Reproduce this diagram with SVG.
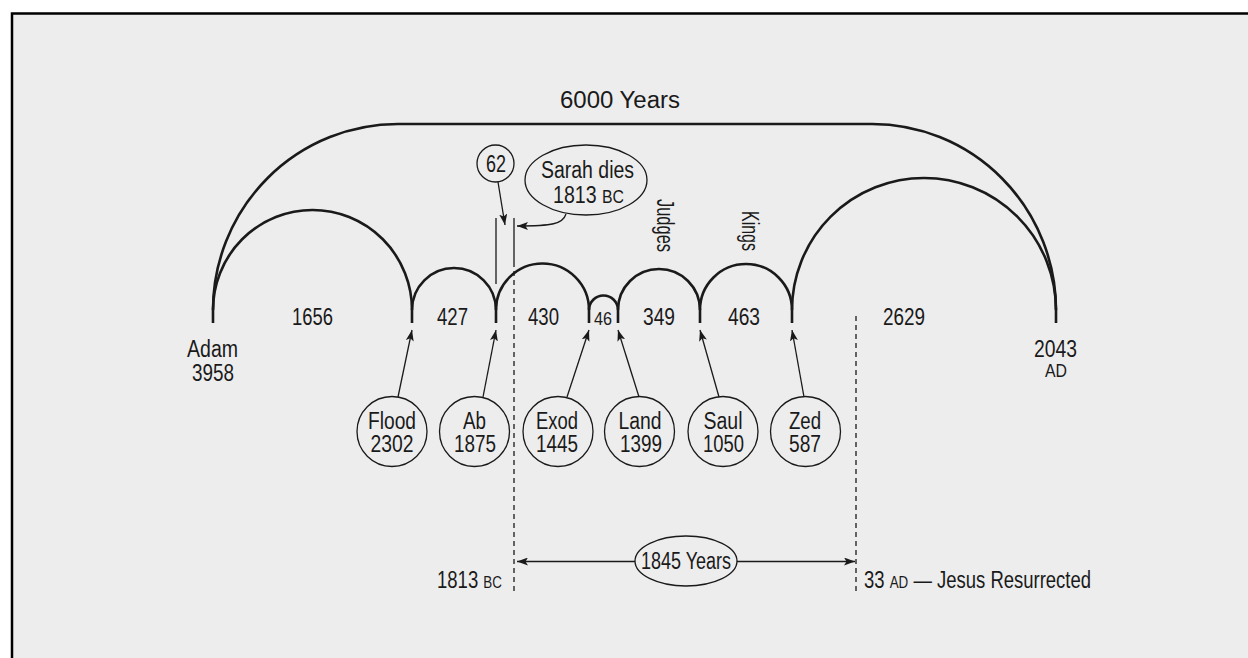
<svg xmlns="http://www.w3.org/2000/svg" width="1248" height="658" viewBox="0 0 1248 658">
<defs>
<style>
.t{font-family:"Liberation Sans Narrow","Liberation Sans",Arial,sans-serif;font-size:23.5px;fill:#1a1a1a;text-anchor:middle}
.s{text-anchor:start}
.sm{font-size:18px}
.arc{fill:none;stroke:#1a1a1a;stroke-width:2.6}
.ln{fill:none;stroke:#1a1a1a;stroke-width:1.3}
.dash{fill:none;stroke:#1a1a1a;stroke-width:1.3;stroke-dasharray:5 4}
.bub{fill:none;stroke:#1a1a1a;stroke-width:1.3}
</style>
<marker id="ah" markerUnits="userSpaceOnUse" markerWidth="12" markerHeight="9" refX="11" refY="4" orient="auto">
<path d="M0,0 L11,4 L0,8 L2.5,4 Z" fill="#1a1a1a"/>
</marker>
<marker id="ahs" markerUnits="userSpaceOnUse" markerWidth="12" markerHeight="9" refX="0" refY="4" orient="auto">
<path d="M11,0 L0,4 L11,8 L8.5,4 Z" fill="#1a1a1a"/>
</marker>
</defs>
<rect x="0" y="0" width="1248" height="658" fill="#ffffff"/>
<rect x="12" y="13.5" width="1250" height="660" fill="#ededed" stroke="#000" stroke-width="2.5"/>

<g id="arcs">
<path class="arc" d="M213,310 A185,186 0 0 1 398,124 L872,124 A184,186 0 0 1 1056,310"/>
<path class="arc" d="M213,310 A99.5,100 0 0 1 412,310"/>
<path class="arc" d="M412,310 A42,42 0 0 1 496,310"/>
<path class="arc" d="M496,310 A46.5,46.5 0 0 1 589,310"/>
<path class="arc" d="M589,310 A14.5,14.5 0 0 1 618,310"/>
<path class="arc" d="M618,310 A41,41 0 0 1 700,310"/>
<path class="arc" d="M700,310 A46,46 0 0 1 792,310"/>
<path class="arc" d="M792,310 A132,132 0 0 1 1056,310"/>
<path class="arc" d="M213,310V323 M412,310V323 M496,310V323 M589,310V323 M618,310V323 M700,310V323 M792,310V323 M1056,310V323"/>
</g>

<g id="connectors">
<line class="ln" x1="496" y1="218" x2="496" y2="284"/>
<line class="ln" x1="514" y1="218" x2="514" y2="262"/>
<line class="dash" x1="514" y1="262" x2="514" y2="591"/>
<line class="dash" x1="856" y1="316" x2="856" y2="591"/>
<line class="ln" x1="398" y1="397" x2="412" y2="330" marker-end="url(#ah)"/>
<line class="ln" x1="483" y1="397" x2="496" y2="330" marker-end="url(#ah)"/>
<line class="ln" x1="567" y1="397" x2="589" y2="330" marker-end="url(#ah)"/>
<line class="ln" x1="639" y1="397" x2="618" y2="330" marker-end="url(#ah)"/>
<line class="ln" x1="719" y1="397" x2="700" y2="330" marker-end="url(#ah)"/>
<line class="ln" x1="804" y1="397" x2="792" y2="330" marker-end="url(#ah)"/>
<line class="ln" x1="498" y1="182" x2="505" y2="225" marker-end="url(#ah)"/>
<path class="ln" d="M566,214 C563,224 552,226 517,226" marker-end="url(#ah)"/>
<line class="ln" x1="517" y1="561.5" x2="635" y2="561.5" marker-start="url(#ahs)"/>
<line class="ln" x1="737" y1="561.5" x2="855" y2="561.5" marker-end="url(#ah)"/>
</g>

<g id="title"><text class="t" x="620" y="108" textLength="120" lengthAdjust="spacingAndGlyphs">6000 Years</text></g>

<g id="spans">
<text class="t" x="312.5" y="325" textLength="41" lengthAdjust="spacingAndGlyphs">1656</text>
<text class="t" x="452.5" y="325" textLength="31" lengthAdjust="spacingAndGlyphs">427</text>
<text class="t" x="543.5" y="325" textLength="31" lengthAdjust="spacingAndGlyphs">430</text>
<text class="t sm" x="603" y="325" textLength="18" lengthAdjust="spacingAndGlyphs">46</text>
<text class="t" x="659" y="325" textLength="32" lengthAdjust="spacingAndGlyphs">349</text>
<text class="t" x="744" y="325" textLength="32" lengthAdjust="spacingAndGlyphs">463</text>
<text class="t" x="904" y="325" textLength="42" lengthAdjust="spacingAndGlyphs">2629</text>
</g>

<g id="judges"><text class="t s" font-size="18.5" transform="translate(656.5,199) rotate(90)" textLength="53" lengthAdjust="spacingAndGlyphs">Judges</text></g>
<g id="kings"><text class="t s" font-size="18.5" transform="translate(741.5,211) rotate(90)" textLength="40" lengthAdjust="spacingAndGlyphs">Kings</text></g>

<g id="adam">
<text class="t" x="212.5" y="357" textLength="51" lengthAdjust="spacingAndGlyphs">Adam</text>
<text class="t" x="213" y="381" textLength="42" lengthAdjust="spacingAndGlyphs">3958</text>
</g>
<g id="end2043">
<text class="t" x="1055.5" y="357" textLength="43" lengthAdjust="spacingAndGlyphs">2043</text>
<text class="t sm" x="1056" y="377" textLength="22" lengthAdjust="spacingAndGlyphs">AD</text>
</g>

<g id="flood">
<circle class="bub" cx="392" cy="431.5" r="35"/>
<text class="t" x="392" y="429" textLength="48" lengthAdjust="spacingAndGlyphs">Flood</text>
<text class="t" x="392" y="452" textLength="43" lengthAdjust="spacingAndGlyphs">2302</text>
</g>
<g id="ab">
<circle class="bub" cx="474.5" cy="431.5" r="35"/>
<text class="t" x="474.5" y="429" textLength="23" lengthAdjust="spacingAndGlyphs">Ab</text>
<text class="t" x="475" y="452" textLength="42" lengthAdjust="spacingAndGlyphs">1875</text>
</g>
<g id="exod">
<circle class="bub" cx="558" cy="431.5" r="35"/>
<text class="t" x="557" y="429" textLength="42" lengthAdjust="spacingAndGlyphs">Exod</text>
<text class="t" x="557" y="452" textLength="42" lengthAdjust="spacingAndGlyphs">1445</text>
</g>
<g id="land">
<circle class="bub" cx="639.5" cy="431.5" r="35"/>
<text class="t" x="640" y="429" textLength="43" lengthAdjust="spacingAndGlyphs">Land</text>
<text class="t" x="641" y="452" textLength="42" lengthAdjust="spacingAndGlyphs">1399</text>
</g>
<g id="saul">
<circle class="bub" cx="723" cy="431.5" r="35"/>
<text class="t" x="723" y="429" textLength="39" lengthAdjust="spacingAndGlyphs">Saul</text>
<text class="t" x="723.5" y="452" textLength="41" lengthAdjust="spacingAndGlyphs">1050</text>
</g>
<g id="zed">
<circle class="bub" cx="805.5" cy="431.5" r="35"/>
<text class="t" x="805" y="429" textLength="32" lengthAdjust="spacingAndGlyphs">Zed</text>
<text class="t" x="805" y="452" textLength="32" lengthAdjust="spacingAndGlyphs">587</text>
</g>

<g id="n62">
<circle class="bub" cx="495.5" cy="163.5" r="18.5"/>
<text class="t" x="496" y="172" textLength="20" lengthAdjust="spacingAndGlyphs">62</text>
</g>
<g id="sarah">
<ellipse class="bub" cx="586" cy="180" rx="61" ry="35"/>
<text class="t" x="587.5" y="178" textLength="93" lengthAdjust="spacingAndGlyphs">Sarah dies</text>
<text class="t s" x="553" y="203" textLength="71" lengthAdjust="spacingAndGlyphs">1813 <tspan font-size="19">BC</tspan></text>
</g>

<g id="span1845">
<ellipse class="bub" cx="686" cy="561" rx="51" ry="25"/>
<text class="t" font-size="21" x="686" y="569" textLength="90" lengthAdjust="spacingAndGlyphs">1845 Years</text>
</g>
<g id="bc1813">
<text class="t s" font-size="21" x="437" y="588" textLength="65" lengthAdjust="spacingAndGlyphs">1813 <tspan font-size="17">BC</tspan></text>
</g>
<g id="ad33">
<text class="t s" font-size="21" x="864" y="588" textLength="227" lengthAdjust="spacingAndGlyphs">33 <tspan font-size="17">AD</tspan> — Jesus Resurrected</text>
</g>
</svg>
